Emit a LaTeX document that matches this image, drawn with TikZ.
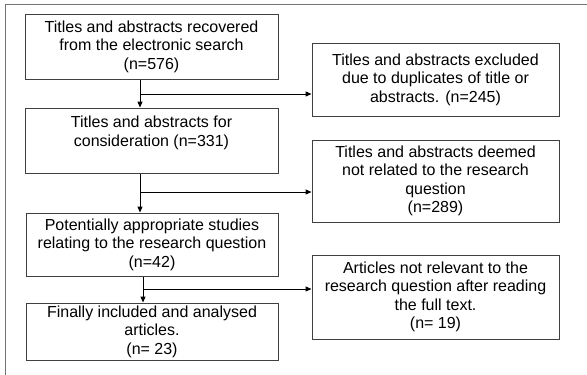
\documentclass[tikz,border=0pt]{standalone}
\usepackage{fontspec}
\setmainfont{Liberation Sans}
\usetikzlibrary{arrows.meta}
\begin{document}
\begin{tikzpicture}[x=1pt,y=-1pt,
  box/.style={draw=black!75, line width=1pt, align=center, inner sep=0pt,
    font=\fontsize{16}{18.4}\selectfont, text=black},
  arr/.style={draw=black, line width=1pt, -{Triangle[length=6pt,width=5pt]}},
  frame/.style={draw=black!55, line width=1pt}]
\useasboundingbox (0,0) rectangle (587,375);
\draw[frame] (5,375) -- (5,4) -- (587,4);
% left column
\node[box, minimum width=253pt, minimum height=65pt] (b1) at (151.5,46.5)
  {Titles and abstracts recovered\\from the electronic search\\(n=576)};
\node[box, minimum width=253pt, minimum height=65pt] (b2) at (151.5,140.5)
  {Titles and abstracts for\\consideration (n=331)\\\mbox{}};
\node[box, minimum width=252pt, minimum height=63pt] (b3) at (152,244.5)
  {Potentially appropriate studies\\relating to the research question\\(n=42)};
\node[box, minimum width=252pt, minimum height=57pt] (b4) at (152,331.5)
  {Finally included and analysed\\articles.\\(n= 23)};
% right column
\node[box, minimum width=247pt, minimum height=73pt] (r1) at (435.5,79.5)
  {Titles and abstracts excluded\\due to duplicates of title or\\abstracts. (n=245)};
\node[box, minimum width=247pt, minimum height=82pt] (r2) at (435.5,181)
  {Titles and abstracts deemed\\not related to the research\\question\\(n=289)};
\node[box, minimum width=247pt, minimum height=84pt] (r3) at (435.5,297)
  {Articles not relevant to the\\research question after reading\\the full text.\\(n= 19)};
% connectors
\coordinate (j1) at (140,94);
\coordinate (j2) at (140,192);
\coordinate (j3) at (143,289);
\draw[arr] (b1.south -| j1) -- (b2.north -| j1);
\draw[arr] (j1) -- (j1 -| r1.west);
\draw[arr] (b2.south -| j2) -- (b3.north -| j2);
\draw[arr] (j2) -- (j2 -| r2.west);
\draw[arr] (b3.south -| j3) -- (b4.north -| j3);
\draw[arr] (j3) -- (j3 -| r3.west);
\end{tikzpicture}
\end{document}
